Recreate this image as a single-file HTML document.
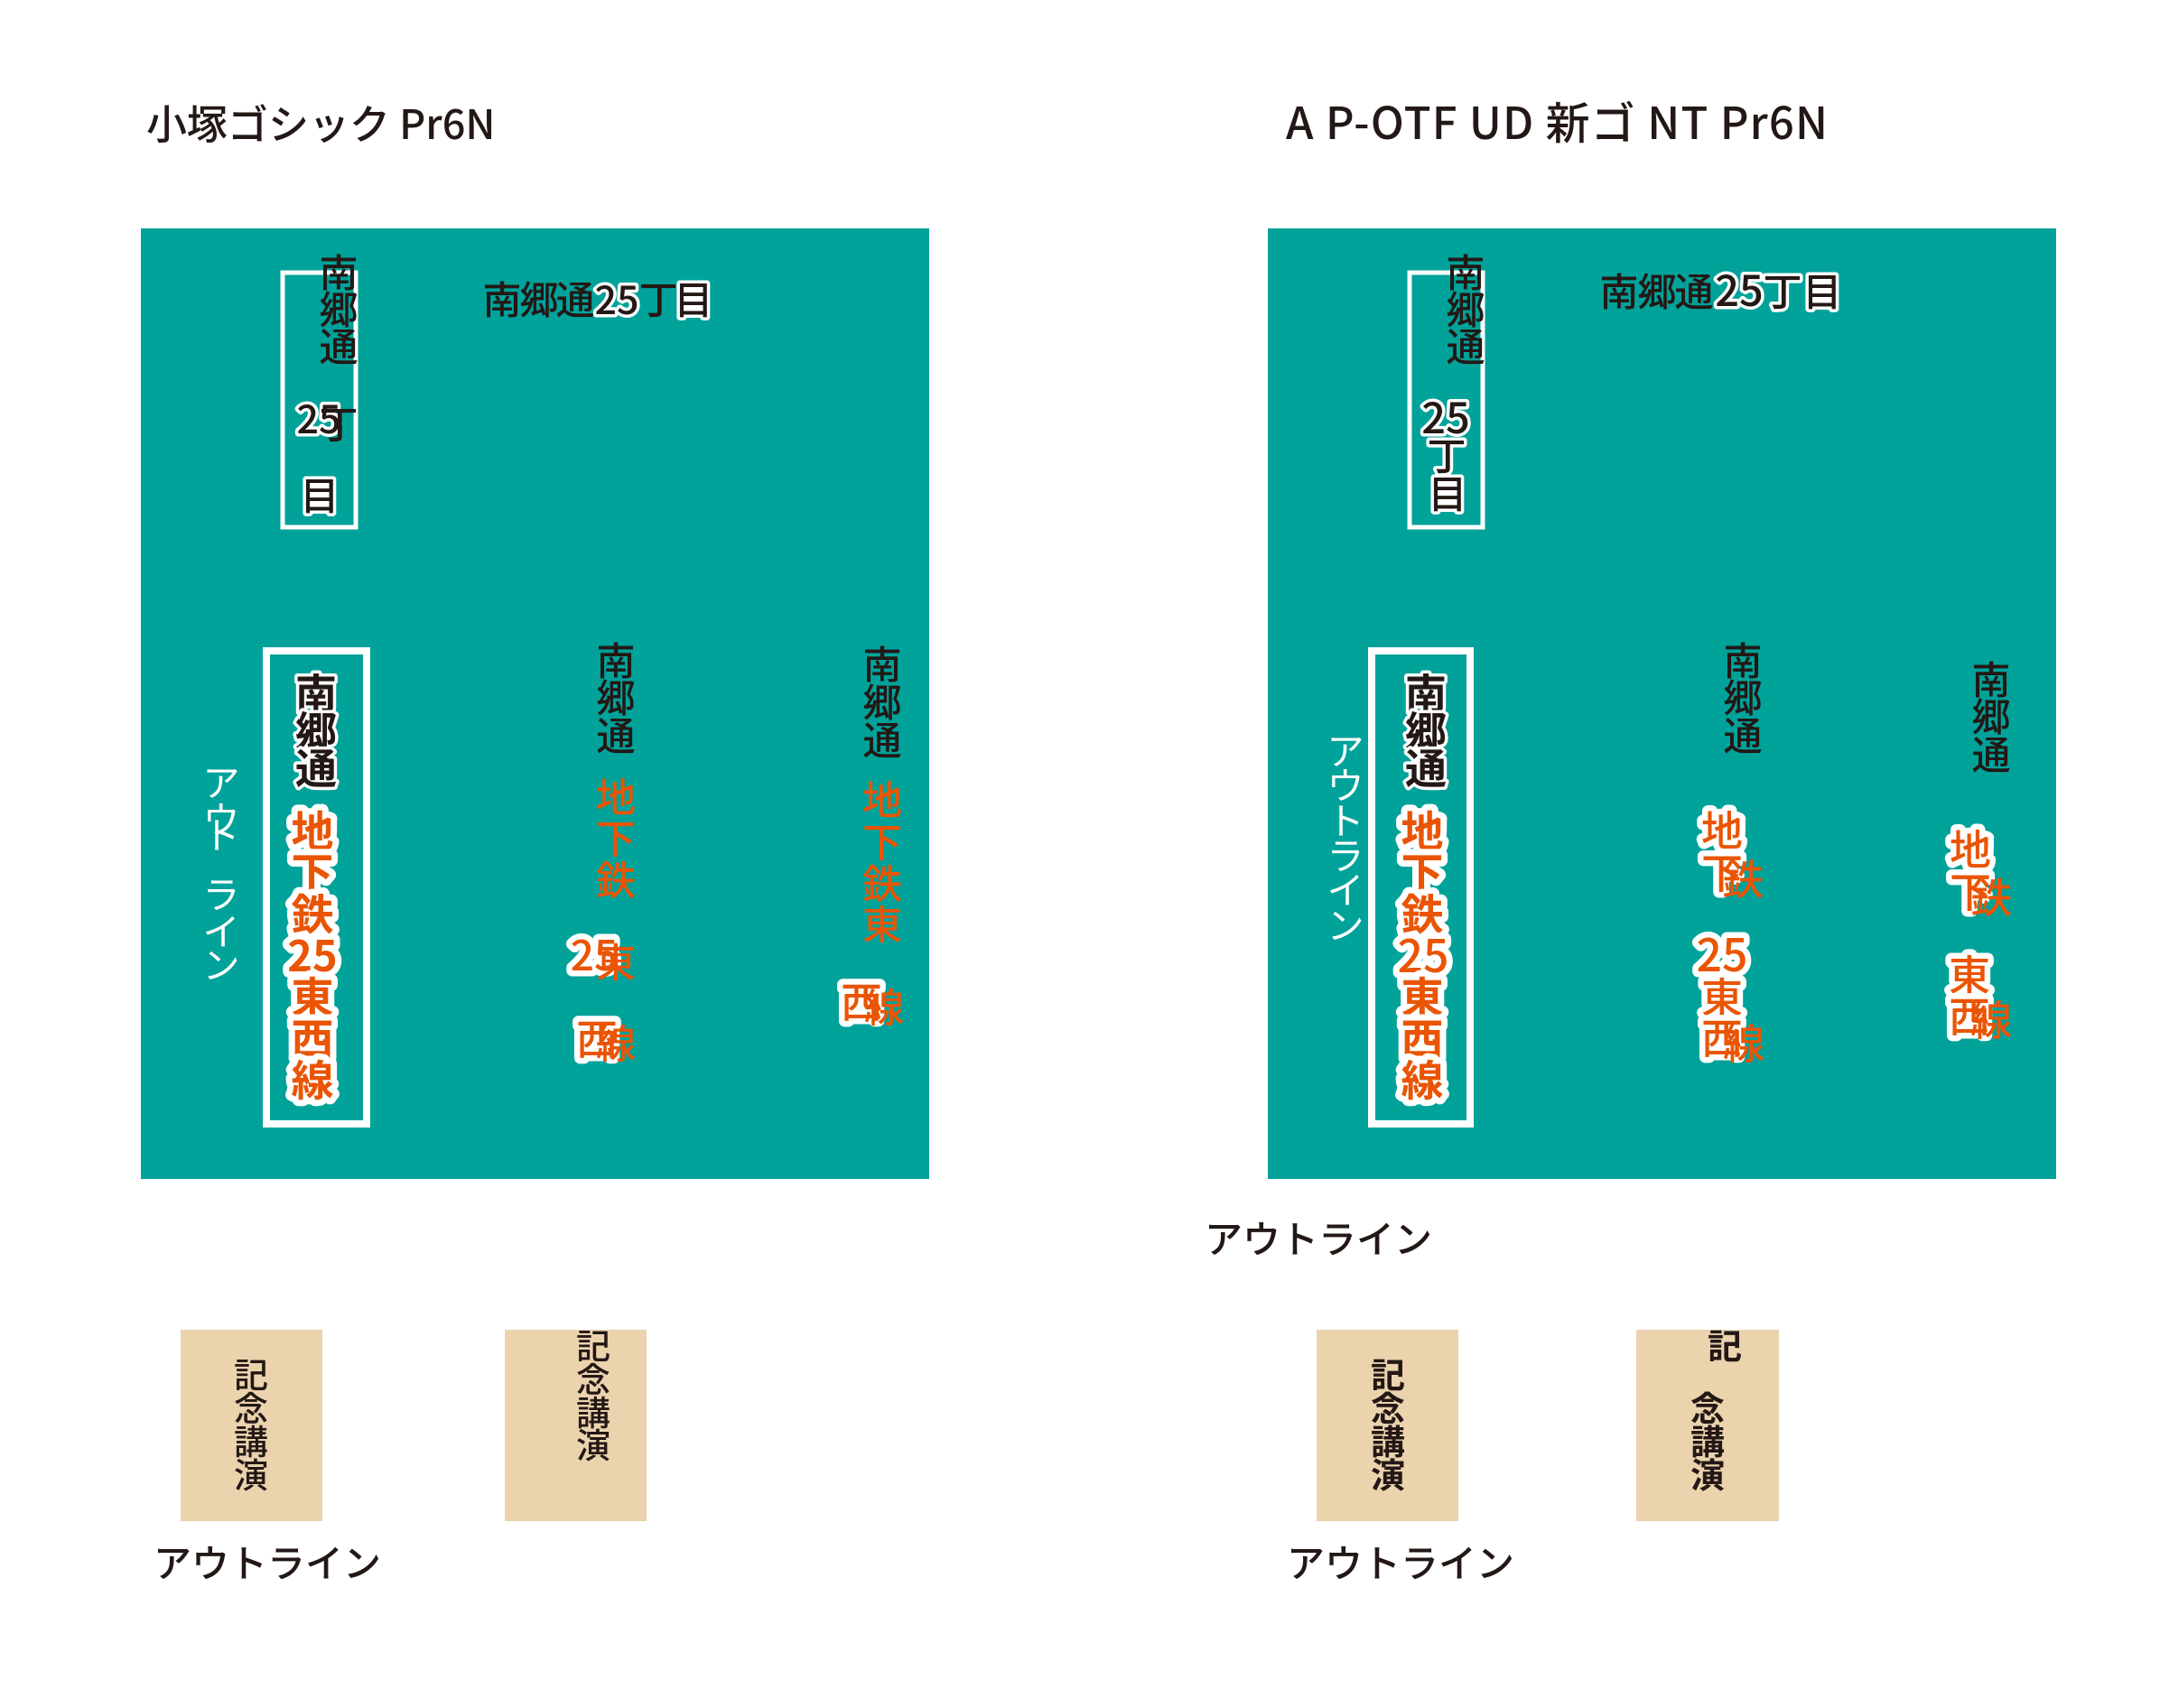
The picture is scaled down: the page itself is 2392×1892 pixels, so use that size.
<!DOCTYPE html>
<html lang="ja"><head><meta charset="utf-8"><title>フォント比較</title>
<style>
html,body{margin:0;padding:0;background:#fff}
svg{display:block}
text{font-family:"Noto Sans CJK JP","Liberation Sans",sans-serif;fill:#231815;font-weight:500}
.c{text-anchor:middle;font-size:43px}
.o{fill:#e95504;font-size:44px}
.oo{fill:#e95504;font-size:47px;font-weight:700;stroke:#fff;stroke-width:14px;stroke-linejoin:round;paint-order:stroke}
.oh{fill:#e95504;font-size:46px;stroke:#fff;stroke-width:13px;stroke-linejoin:round;paint-order:stroke}
.h{stroke:#fff;stroke-width:7px;stroke-linejoin:round;paint-order:stroke}
.b{font-weight:700;font-size:46px;stroke:#fff;stroke-width:7px;stroke-linejoin:round;paint-order:stroke}
.w{fill:#fff;font-size:41px;font-weight:400}
.t{font-size:45px}
.t2{font-size:49px}
.l{font-size:42px}
.s{font-size:38px}
.d{font-size:50px;font-weight:500}
.e{font-size:47px}
</style></head><body>
<svg xmlns="http://www.w3.org/2000/svg" width="2392" height="1892" viewBox="0 0 2392 1892">
<rect width="2392" height="1892" fill="#fff"/>
<text class="t" x="162" y="154">小塚ゴシック Pr6N</text>
<text class="t2" x="1424" y="154" textLength="600" lengthAdjust="spacing">A P-OTF UD 新ゴ NT Pr6N</text>

<rect x="156" y="253" width="873" height="1053" fill="#00a29a"/>
<rect x="1404" y="253" width="873" height="1053" fill="#00a29a"/>

<!-- left panel -->
<rect x="313" y="302" width="81" height="282" fill="none" stroke="#fff" stroke-width="5"/>
<text class="c" x="375 375 375" y="318 359 400">南郷通</text>
<text class="c h" x="353" y="480">25</text>
<text class="c" x="375" y="486">丁</text>
<text class="c h" x="354" y="565">目</text>
<text class="c" x="556 597 637" y="348 348 348">南郷通</text>
<text class="c h" x="683" y="348">25</text>
<text class="c" x="729" y="348">丁</text>
<text class="c h" x="768" y="348">目</text>

<rect x="295" y="721" width="111" height="524" fill="none" stroke="#fff" stroke-width="8"/>
<text class="c b" x="350 350 350" y="785 827 868">南郷通</text>
<text class="c oo" x="346 346 346" y="938 984 1030">地下鉄</text>
<text class="c oo" x="346" y="1076">25</text>
<text class="c oo" x="346 346 346" y="1122 1168 1214">東西線</text>
<text class="c w" x="245 245 245" y="882 923 940">アウト</text>
<text class="c w" x="245 245 245" y="1006 1047 1084">ライン</text>

<text class="c" x="682 682 682" y="748 789 831">南郷通</text>
<text class="c o" x="682 682 682" y="899 945 991">地下鉄</text>
<text class="c oh" x="658" y="1075">25</text>
<text class="c o" x="682" y="1082">東</text>
<text class="c oh" x="661" y="1168">西</text>
<text class="c o" x="682" y="1172">線</text>

<text class="c" x="977 977 977" y="752 794 836">南郷通</text>
<text class="c o" x="977 977 977 977" y="902 949 995 1040">地下鉄東</text>
<text class="c oh" x="954" y="1127">西</text>
<text class="c o" x="979" y="1132">線</text>

<!-- right panel -->
<rect x="1561" y="302" width="81" height="282" fill="none" stroke="#fff" stroke-width="5"/>
<text class="c" x="1623 1623 1623" y="318 359 400">南郷通</text>
<text class="c h e" x="1601" y="480">25</text>
<text class="c h" x="1602" y="521">丁</text>
<text class="c h" x="1603" y="563">目</text>
<text class="c" x="1793 1835 1876" y="339 339 339">南郷通</text>
<text class="c h e" x="1926" y="339">25</text>
<text class="c h" x="1974" y="339">丁</text>
<text class="c h" x="2018" y="339">目</text>

<rect x="1519" y="721" width="109" height="524" fill="none" stroke="#fff" stroke-width="8"/>
<text class="c b" x="1579 1579 1579" y="785 827 868">南郷通</text>
<text class="c oo" x="1575 1575 1575" y="938 984 1030">地下鉄</text>
<text class="c oo d" x="1576" y="1077">25</text>
<text class="c oo" x="1575 1575 1575" y="1122 1168 1214">東西線</text>
<text class="c w" x="1490 1490 1490 1490 1490 1490" y="847 885 924 963 1001 1040">アウトライン</text>

<text class="c" x="1930 1930 1930" y="748 789 831">南郷通</text>
<text class="c oh" x="1907 1907" y="937 984">地下</text>
<text class="c o" x="1930" y="991" style="font-size:46px">鉄</text>
<text class="c oh d" x="1907" y="1076">25</text>
<text class="c oh" x="1907 1907" y="1122 1167">東西</text>
<text class="c o" x="1931" y="1173" style="font-size:46px">線</text>

<text class="c" x="2205 2205 2205" y="769 810 852">南郷通</text>
<text class="c oh" x="2182 2182" y="958 1005">地下</text>
<text class="c o" x="2205" y="1011" style="font-size:46px">鉄</text>
<text class="c oh" x="2181 2181" y="1097 1143">東西</text>
<text class="c o" x="2205" y="1147" style="font-size:46px">線</text>

<text class="l" x="1334" y="1388">アウトライン</text>

<!-- beige -->
<rect x="200" y="1473" width="157" height="212" fill="#ead3ad"/>
<rect x="559" y="1473" width="157" height="212" fill="#ead3ad"/>
<rect x="1458" y="1473" width="157" height="212" fill="#ead3ad"/>
<rect x="1812" y="1473" width="158" height="212" fill="#ead3ad"/>
<text class="c s" x="278 278 278 278" y="1537 1574 1611 1648">記念講演</text>
<text class="c s" x="657 657 657 657" y="1505 1542 1579 1615">記念講演</text>
<text class="c s" x="1537 1537 1537 1537" y="1537 1574 1611 1648" font-weight="700" style="font-weight:700">記念講演</text>
<text class="c s" x="1910" y="1505" style="font-weight:700">記</text>
<text class="c s" x="1891 1891 1891" y="1574 1611 1648" style="font-weight:700">念講演</text>

<text class="l" x="170" y="1747">アウトライン</text>
<text class="l" x="1425" y="1747">アウトライン</text>
</svg>
</body></html>
